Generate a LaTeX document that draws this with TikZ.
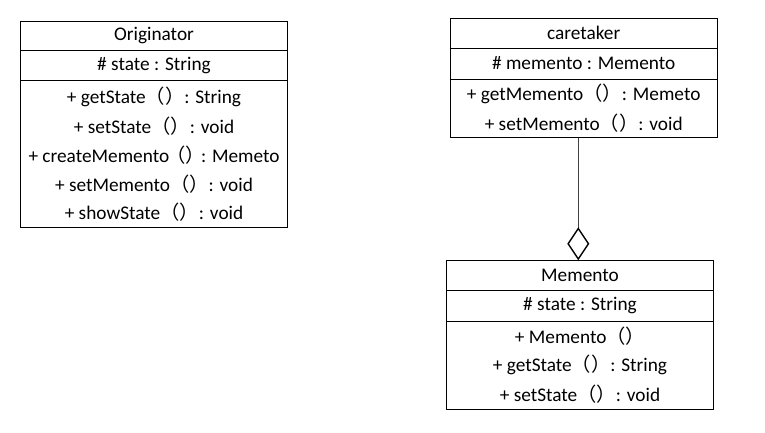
\documentclass[tikz,border=0pt]{standalone}
\usepackage{fontspec}
\setmainfont{Carlito}
\newfontfamily\cjk{Noto Sans CJK SC}
\usetikzlibrary{arrows.meta}
\newcommand\pp{{\cjk （）}}
\newcommand\ppt{{\cjk\kern-0.15em（）\kern-0.2em}}
\tikzset{
  classbox/.style={draw=black, line width=0.9pt, rectangle, inner sep=0pt},
  sep/.style={draw=black, line width=0.9pt},
  txt/.style={inner sep=0pt, text=black, font=\fontsize{19.3}{22}\selectfont, anchor=center},
  agg/.style={draw=black!75, line width=0.8pt, -{Diamond[open, length=33pt, width=22pt, line width=1.4pt, color=black]}}
}
\begin{document}
\begin{tikzpicture}[x=1pt,y=1pt]
\useasboundingbox (0,0) rectangle (765,432);
% Originator
\node[classbox, minimum width=267pt, minimum height=205.6pt] (orig) at (154,307.5) {};
\draw[sep] (orig.west |- 0,381.3) -- (orig.east |- 0,381.3);
\draw[sep] (orig.west |- 0,351.3) -- (orig.east |- 0,351.3);
\node[txt] (o1) at (154,396) {Originator};
\node[txt] (o2) at (154,366) {\# state : String};
\node[txt] (o3) at (154,335) {+ getState\pp : String};
\node[txt] (o4) at (154,306) {+ setState\pp : void};
\node[txt] (o5) at (154,277) {+ createMemento\ppt: Memeto};
\node[txt] (o6) at (154,248) {+ setMemento\pp : void};
\node[txt] (o7) at (154,220) {+ showState\pp : void};
% caretaker
\node[classbox, minimum width=267.3pt, minimum height=119pt] (care) at (583.7,354.2) {};
\draw[sep] (care.west |- 0,383.7) -- (care.east |- 0,383.7);
\draw[sep] (care.west |- 0,352.7) -- (care.east |- 0,352.7);
\node[txt] (c1) at (583.7,399) {caretaker};
\node[txt] (c2) at (583.7,369) {\# memento : Memento};
\node[txt] (c3) at (583.7,338) {+ getMemento\pp : Memeto};
\node[txt] (c4) at (583.7,309) {+ setMemento\pp : void};
% Memento
\node[classbox, minimum width=266.6pt, minimum height=148.3pt] (mem) at (580,97.15) {};
\draw[sep] (mem.west |- 0,141.3) -- (mem.east |- 0,141.3);
\draw[sep] (mem.west |- 0,110.3) -- (mem.east |- 0,110.3);
\node[txt] (m1) at (580,157) {Memento};
\node[txt] (m2) at (580,126) {\# state : String};
\node[txt] (m3) at (580,96) {+ Memento\pp};
\node[txt] (m4) at (580,67) {+ getState\pp : String};
\node[txt] (m5) at (580,38) {+ setState\pp : void};
% aggregation
\coordinate (link) at (578.3,0);
\draw[agg] (link |- care.south) -- (link |- mem.north);
\end{tikzpicture}
\end{document}
